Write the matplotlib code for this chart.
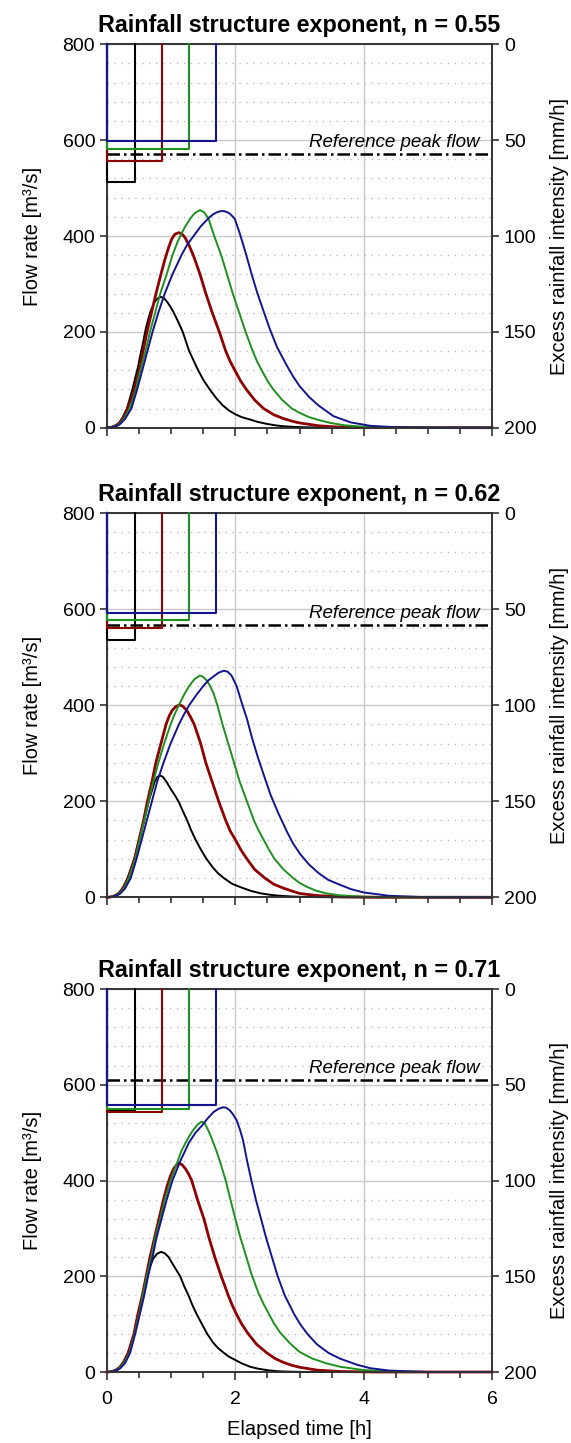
import matplotlib
matplotlib.use("Agg")
import matplotlib.pyplot as plt
from matplotlib.ticker import MultipleLocator

plt.rcParams['font.family'] = ['Liberation Sans', 'DejaVu Sans']

# ---- data ---------------------------------------------------------------
nValues = [0.55, 0.62, 0.71]                                    # rainfall structure exponent per panel
refPeakFlow = [571, 567, 610]                                   # reference peak flow [m3/s]
rainDuration = [0.43, 0.85, 1.28, 1.70]                         # storm durations [h], black/red/green/blue
rainIntensity1 = [72.0, 61.0, 54.5, 50.3]                       # excess rainfall [mm/h], n = 0.55
rainIntensity2 = [66.0, 59.8, 55.4, 52.2]                       # n = 0.62
rainIntensity3 = [63.5, 64.4, 62.7, 60.6]                       # n = 0.71

# hydrographs, n = 0.55
tBlack1 = [0, 0.05, 0.1, 0.15, 0.2, 0.25, 0.31, 0.35, 0.40, 0.44, 0.48, 0.52, 0.55, 0.58, 0.61, 0.65, 0.68, 0.72, 0.75, 0.79, 0.84, 0.89, 0.94, 0.99, 1.04, 1.11, 1.18, 1.23, 1.28, 1.35, 1.42, 1.5, 1.6, 1.7, 1.8, 1.9, 2.0, 2.1, 2.23, 2.35, 2.49, 2.62, 2.75, 2.9, 3.05, 3.3, 3.6, 6.0]
qBlack1 = [0, 0.5, 3, 6, 12, 23, 40, 58, 82, 104, 125, 152, 170, 190, 210, 230, 243, 256, 264, 270, 273, 270, 262, 252, 240, 221, 200, 180, 160, 140, 120, 100, 80, 62, 47, 36, 28, 22, 17, 12, 8, 5, 3, 1.8, 1, 0.4, 0, 0]
tRed1 = [0, 0.05, 0.1, 0.15, 0.2, 0.26, 0.32, 0.38, 0.43, 0.5, 0.56, 0.62, 0.69, 0.76, 0.84, 0.9, 0.96, 1.01, 1.06, 1.12, 1.17, 1.22, 1.28, 1.35, 1.45, 1.54, 1.64, 1.75, 1.85, 1.92, 2.0, 2.08, 2.17, 2.3, 2.44, 2.6, 2.75, 2.9, 3.0, 3.15, 3.3, 3.55, 3.8, 6.0]
qRed1 = [0, 0.5, 2, 5, 11, 22, 40, 60, 82, 120, 158, 198, 238, 278, 320, 350, 376, 394, 404, 407, 404, 396, 380, 358, 320, 280, 240, 200, 160, 138, 118, 98, 80, 58, 40, 27, 19, 13, 10, 7, 4, 1.8, 0.5, 0]
tGreen1 = [0, 0.05, 0.1, 0.15, 0.2, 0.27, 0.35, 0.4, 0.45, 0.52, 0.6, 0.67, 0.75, 0.83, 0.93, 1.02, 1.1, 1.15, 1.22, 1.3, 1.37, 1.45, 1.51, 1.58, 1.67, 1.78, 1.87, 1.96, 2.06, 2.16, 2.27, 2.34, 2.41, 2.5, 2.59, 2.73, 2.88, 3.0, 3.15, 3.3, 3.48, 3.7, 4.0, 4.5, 6.0]
qGreen1 = [0, 0.5, 2, 4, 9, 20, 40, 58, 80, 120, 160, 200, 240, 280, 320, 360, 388, 402, 420, 437, 448, 454, 450, 437, 400, 360, 320, 280, 240, 200, 160, 138, 120, 98, 80, 58, 40, 31, 22, 16, 10, 5, 2, 0.3, 0]
tBlue1 = [0, 0.05, 0.1, 0.15, 0.2, 0.28, 0.38, 0.47, 0.55, 0.63, 0.71, 0.8, 0.9, 1.02, 1.16, 1.25, 1.35, 1.46, 1.58, 1.65, 1.72, 1.78, 1.82, 1.87, 1.92, 1.99, 2.07, 2.16, 2.25, 2.34, 2.44, 2.54, 2.65, 2.8, 2.9, 3.0, 3.15, 3.3, 3.53, 3.8, 4.1, 4.5, 5.0, 6.0]
qBlue1 = [0, 0.3, 1.5, 3.5, 7, 18, 40, 80, 120, 160, 200, 240, 280, 320, 360, 382, 400, 420, 437, 445, 450, 452, 452, 450, 446, 436, 405, 365, 322, 282, 243, 205, 168, 130, 107, 87, 64, 46, 24, 11, 4, 1, 0, 0]

# hydrographs, n = 0.62
tBlack2 = [0, 0.05, 0.1, 0.15, 0.2, 0.26, 0.32, 0.38, 0.43, 0.5, 0.58, 0.65, 0.7, 0.74, 0.78, 0.82, 0.87, 0.93, 1.0, 1.06, 1.12, 1.18, 1.25, 1.31, 1.38, 1.46, 1.55, 1.65, 1.73, 1.82, 1.95, 2.1, 2.25, 2.4, 2.55, 2.7, 2.85, 3.0, 3.3, 3.6, 6.0]
qBlack2 = [0, 0.5, 2, 5, 11, 23, 40, 62, 82, 120, 160, 200, 222, 240, 250, 254, 251, 240, 224, 212, 198, 180, 160, 140, 120, 100, 80, 62, 50, 40, 28, 20, 13, 8, 5, 3, 1.8, 1, 0.3, 0, 0]
tRed2 = [0, 0.05, 0.1, 0.15, 0.2, 0.26, 0.33, 0.38, 0.43, 0.5, 0.57, 0.63, 0.7, 0.76, 0.84, 0.92, 0.97, 1.02, 1.07, 1.13, 1.18, 1.24, 1.3, 1.36, 1.46, 1.54, 1.64, 1.74, 1.85, 1.92, 2.0, 2.09, 2.18, 2.3, 2.46, 2.6, 2.75, 2.88, 3.0, 3.27, 3.63, 4.2, 6.0]
qRed2 = [0, 0.5, 2, 5, 10, 21, 40, 60, 80, 120, 160, 200, 240, 280, 320, 360, 378, 390, 397, 401, 398, 390, 376, 360, 320, 280, 240, 200, 160, 138, 120, 98, 80, 58, 40, 27, 19, 13, 8, 3.5, 1, 0, 0]
tGreen2 = [0, 0.05, 0.1, 0.15, 0.2, 0.27, 0.34, 0.39, 0.44, 0.51, 0.58, 0.65, 0.72, 0.8, 0.89, 0.99, 1.05, 1.12, 1.2, 1.28, 1.36, 1.45, 1.5, 1.55, 1.6, 1.66, 1.72, 1.8, 1.89, 1.98, 2.07, 2.18, 2.29, 2.36, 2.44, 2.52, 2.61, 2.75, 2.9, 3.0, 3.11, 3.25, 3.42, 3.63, 4.0, 4.5, 6.0]
qGreen2 = [0, 0.5, 2, 4, 9, 20, 40, 60, 80, 120, 160, 200, 240, 280, 320, 360, 380, 400, 422, 440, 454, 462, 459, 452, 442, 425, 400, 360, 320, 280, 240, 200, 160, 140, 120, 100, 80, 58, 40, 30, 22, 14, 8, 4, 1, 0, 0]
tBlue2 = [0, 0.05, 0.1, 0.15, 0.2, 0.28, 0.37, 0.46, 0.54, 0.62, 0.7, 0.78, 0.88, 0.99, 1.12, 1.2, 1.28, 1.39, 1.5, 1.58, 1.66, 1.74, 1.82, 1.88, 1.94, 2.02, 2.1, 2.18, 2.26, 2.35, 2.45, 2.55, 2.67, 2.81, 2.9, 3.01, 3.15, 3.3, 3.45, 3.63, 3.8, 4.0, 4.4, 5.0, 6.0]
qBlue2 = [0, 0.3, 1.5, 3.5, 7, 18, 40, 80, 120, 160, 200, 240, 280, 320, 360, 381, 400, 421, 440, 452, 460, 468, 472, 470, 462, 440, 405, 372, 332, 292, 252, 213, 175, 135, 112, 90, 68, 50, 36, 26, 17, 10, 3, 0, 0]

# hydrographs, n = 0.71
tBlack3 = [0, 0.05, 0.1, 0.15, 0.2, 0.26, 0.33, 0.38, 0.43, 0.5, 0.56, 0.62, 0.67, 0.72, 0.78, 0.84, 0.9, 0.96, 1.04, 1.14, 1.2, 1.27, 1.33, 1.4, 1.48, 1.56, 1.65, 1.73, 1.82, 1.9, 2.0, 2.1, 2.23, 2.35, 2.49, 2.62, 2.75, 3.0, 3.2, 6.0]
qBlack3 = [0, 0.5, 2, 5, 10, 21, 40, 60, 80, 120, 160, 196, 220, 237, 247, 251, 248, 240, 222, 200, 180, 160, 140, 120, 100, 80, 62, 50, 40, 32, 25, 18, 11, 7, 4, 2, 1, 0.3, 0, 0]
tRed3 = [0, 0.05, 0.1, 0.15, 0.2, 0.26, 0.33, 0.38, 0.42, 0.48, 0.55, 0.61, 0.67, 0.74, 0.81, 0.88, 0.94, 0.99, 1.04, 1.08, 1.12, 1.17, 1.22, 1.27, 1.32, 1.41, 1.51, 1.59, 1.68, 1.78, 1.89, 1.95, 2.02, 2.1, 2.2, 2.33, 2.49, 2.62, 2.75, 2.88, 3.0, 3.27, 3.63, 4.2, 6.0]
qRed3 = [0, 0.5, 2, 5, 10, 21, 40, 62, 80, 120, 160, 200, 240, 280, 320, 360, 390, 410, 425, 432, 436, 433, 425, 414, 400, 360, 320, 280, 240, 200, 160, 140, 120, 100, 80, 58, 40, 28, 20, 14, 10, 4, 1, 0, 0]
tGreen3 = [0, 0.05, 0.1, 0.15, 0.2, 0.27, 0.35, 0.39, 0.43, 0.5, 0.56, 0.62, 0.69, 0.75, 0.83, 0.9, 0.99, 1.1, 1.16, 1.23, 1.3, 1.37, 1.42, 1.475, 1.52, 1.57, 1.62, 1.66, 1.71, 1.76, 1.85, 1.92, 1.99, 2.07, 2.16, 2.25, 2.36, 2.44, 2.52, 2.6, 2.7, 2.85, 3.0, 3.2, 3.42, 3.63, 4.0, 4.6, 6.0]
qGreen3 = [0, 0.5, 2, 4, 9, 20, 40, 60, 80, 120, 160, 200, 240, 280, 320, 360, 400, 440, 462, 480, 497, 510, 518, 523, 520, 507, 492, 478, 460, 440, 400, 362, 325, 285, 245, 205, 165, 142, 122, 102, 82, 60, 42, 28, 18, 11, 4, 0, 0]
tBlue3 = [0, 0.05, 0.1, 0.15, 0.2, 0.28, 0.36, 0.44, 0.51, 0.58, 0.64, 0.71, 0.77, 0.85, 0.93, 1.02, 1.14, 1.28, 1.38, 1.475, 1.57, 1.66, 1.74, 1.81, 1.86, 1.91, 1.96, 2.02, 2.07, 2.12, 2.18, 2.25, 2.32, 2.4, 2.48, 2.57, 2.66, 2.77, 2.92, 3.01, 3.12, 3.27, 3.45, 3.63, 3.9, 4.1, 4.4, 5.0, 6.0]
qBlue3 = [0, 0.3, 1.5, 3.5, 7, 18, 40, 80, 120, 160, 200, 240, 280, 320, 360, 400, 440, 480, 500, 514, 530, 543, 550, 553, 552, 547, 539, 526, 507, 484, 443, 400, 360, 320, 280, 240, 200, 160, 120, 100, 80, 58, 40, 28, 15, 8, 3, 0, 0]

lineColors = ['#000000', '#8c0000', '#1f8f1f', '#14148c']     # black, red, green, blue
lineWidths = [1.4, 2.0, 1.4, 1.4]

panels = [
    (rainIntensity1, [(tBlack1, qBlack1), (tRed1, qRed1), (tGreen1, qGreen1), (tBlue1, qBlue1)]),
    (rainIntensity2, [(tBlack2, qBlack2), (tRed2, qRed2), (tGreen2, qGreen2), (tBlue2, qBlue2)]),
    (rainIntensity3, [(tBlack3, qBlack3), (tRed3, qRed3), (tGreen3, qGreen3), (tBlue3, qBlue3)]),
]

# axes boxes in figure fractions (left, bottom, width, height)
axBoxes = [
    [0.1874, 0.7036, 0.6743, 0.2657],
    [0.1874, 0.3782, 0.6743, 0.2661],
    [0.1874, 0.0492, 0.6743, 0.2654],
]

spineColor = '#333333'

fig = plt.figure(figsize=(5.71, 14.43), dpi=100)

for p in range(3):
    intensities, hydrographs = panels[p]
    ax = fig.add_axes(axBoxes[p])
    ax2 = ax.twinx()

    ax.set_xlim(0, 6)
    ax.set_ylim(0, 800)
    ax2.set_ylim(200, 0)                                        # rainfall axis hangs from the top

    ax.xaxis.set_major_locator(MultipleLocator(2))
    ax.xaxis.set_minor_locator(MultipleLocator(0.5))
    ax.yaxis.set_major_locator(MultipleLocator(200))
    ax.yaxis.set_minor_locator(MultipleLocator(40))
    ax2.yaxis.set_major_locator(MultipleLocator(50))

    ax.set_axisbelow(True)
    ax.grid(which='major', color='#c8c8c8', lw=1.0)
    ax.grid(which='minor', axis='y', color='#bdbdbd', lw=1.0, ls=(0, (1, 4)))

    for a in (ax, ax2):
        for s in a.spines.values():
            s.set_color(spineColor)
            s.set_linewidth(1.2)
    ax.tick_params(which='major', direction='out', length=5, width=1.2, color=spineColor, labelsize=14)
    ax.tick_params(axis='x', which='major', length=6, pad=8)
    ax.tick_params(axis='x', which='minor', direction='out', length=4, width=1.2, color=spineColor)
    ax.tick_params(axis='y', which='minor', length=0)
    ax2.tick_params(which='major', direction='out', length=5, width=1.2, color=spineColor, labelsize=14)

    # hydrographs
    for k in range(4):
        t, q = hydrographs[k]
        ax.plot(t, q, color=lineColors[k], lw=lineWidths[k], clip_on=False, zorder=3 + k,
                solid_joinstyle='round')

    # reference peak flow
    ax.axhline(refPeakFlow[p], color='black', lw=1.8, ls=(0, (5, 1.6, 1, 1.6)), zorder=8)
    ax.text(5.8, refPeakFlow[p] + 7, 'Reference peak flow', ha='right', va='bottom',
            style='italic', fontsize=13.5)

    # hyetographs (rectangular storms)
    for k in range(4):
        d = rainDuration[k]
        i = intensities[k]
        ax2.plot([0, 0, d, d], [0, i, i, 0], color=lineColors[k], lw=1.5, clip_on=False, zorder=3 + k)

    ax.set_title('Rainfall structure exponent, n = %.2f' % nValues[p], fontsize=16.8,
                 fontweight='bold', pad=9)
    ax.set_ylabel('Flow rate [m³/s]', fontsize=14.5, labelpad=15)
    ax2.set_ylabel('Excess rainfall intensity [mm/h]', fontsize=14.5, labelpad=10)

    if p < 2:
        ax.tick_params(axis='x', labelbottom=False)
    else:
        ax.set_xlabel('Elapsed time [h]', fontsize=14.5, labelpad=8)

fig.savefig('out.png', dpi=100)
